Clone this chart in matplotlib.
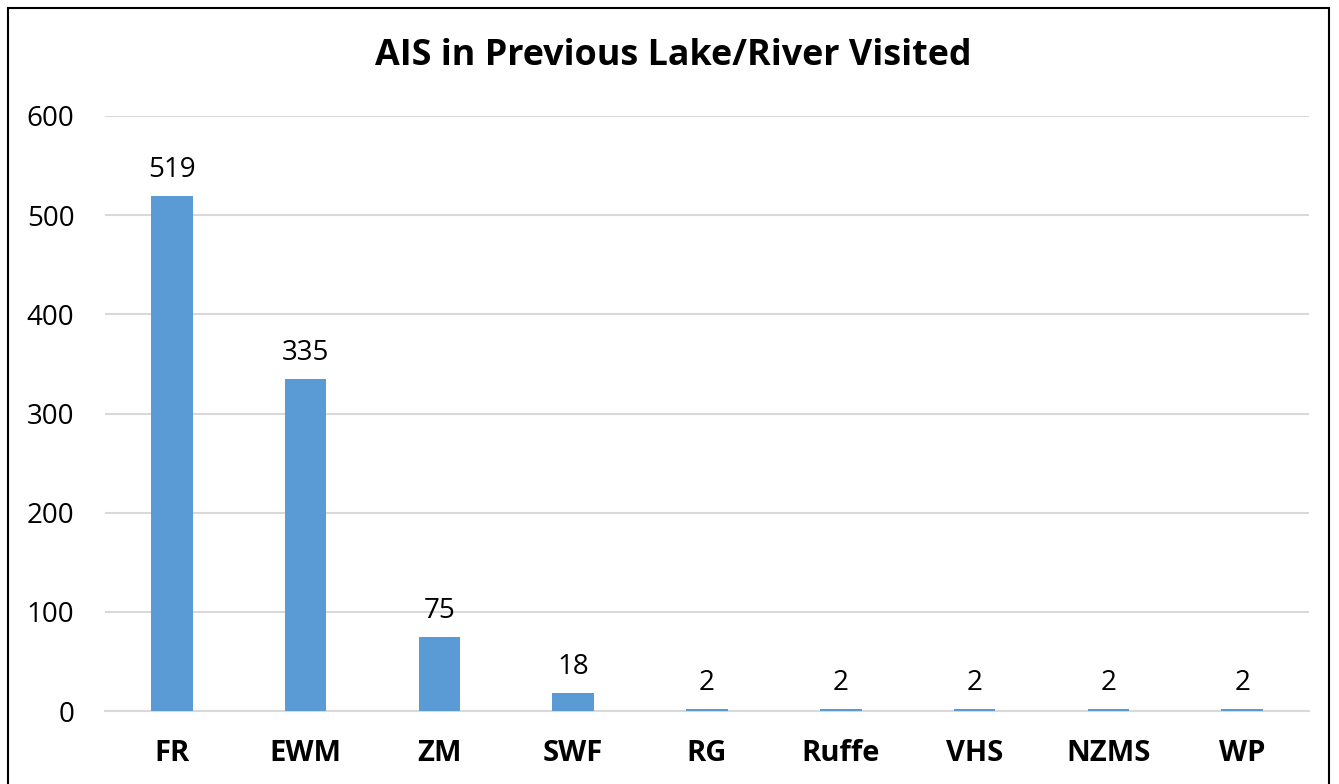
import matplotlib.pyplot as plt
import matplotlib.patches as mpatches

plt.rcParams['font.family'] = ['Open Sans', 'DejaVu Sans']

categories = ['FR', 'EWM', 'ZM', 'SWF', 'RG', 'Ruffe', 'VHS', 'NZMS', 'WP']
counts = [519, 335, 75, 18, 2, 2, 2, 2, 2]

fig = plt.figure(figsize=(13.39, 7.84), dpi=100)
ax = fig.add_axes([105 / 1339, 1 - 711 / 784, 1204 / 1339, 595 / 784])

x = range(len(categories))
bars = ax.bar(x, counts, width=0.31, color='#5B9BD5', zorder=3)
for xi, v in zip(x, counts):
    ax.text(xi, v + 12, str(v), ha='center', va='bottom', fontsize=20, color='#000000')

ax.set_xlim(-0.5, len(categories) - 0.5)
ax.set_ylim(0, 600)
ax.set_yticks(range(0, 601, 100))
ax.yaxis.grid(True, color='#D9D9D9', linewidth=1.5, zorder=0)
ax.set_xticks(list(x))
ax.set_xticklabels(categories, fontsize=21, fontweight='bold')
ax.tick_params(axis='y', labelsize=20, length=0, pad=22)
ax.tick_params(axis='x', length=0, pad=20)
for side in ['top', 'right', 'left']:
    ax.spines[side].set_visible(False)
ax.spines['bottom'].set_color('#D9D9D9')
ax.spines['bottom'].set_linewidth(1.5)

fig.text(673 / 1339, 1 - 56 / 784, 'AIS in Previous Lake/River Visited',
         ha='center', va='center', fontsize=25.8, fontweight='bold')

# chart frame
frame = mpatches.Rectangle((8 / 1339, -0.01), 1321 / 1339, 1 - 8 / 784 + 0.01,
                           transform=fig.transFigure, fill=False,
                           edgecolor='black', linewidth=1.5)
fig.patches.append(frame)

fig.savefig('out.png', dpi=100)
